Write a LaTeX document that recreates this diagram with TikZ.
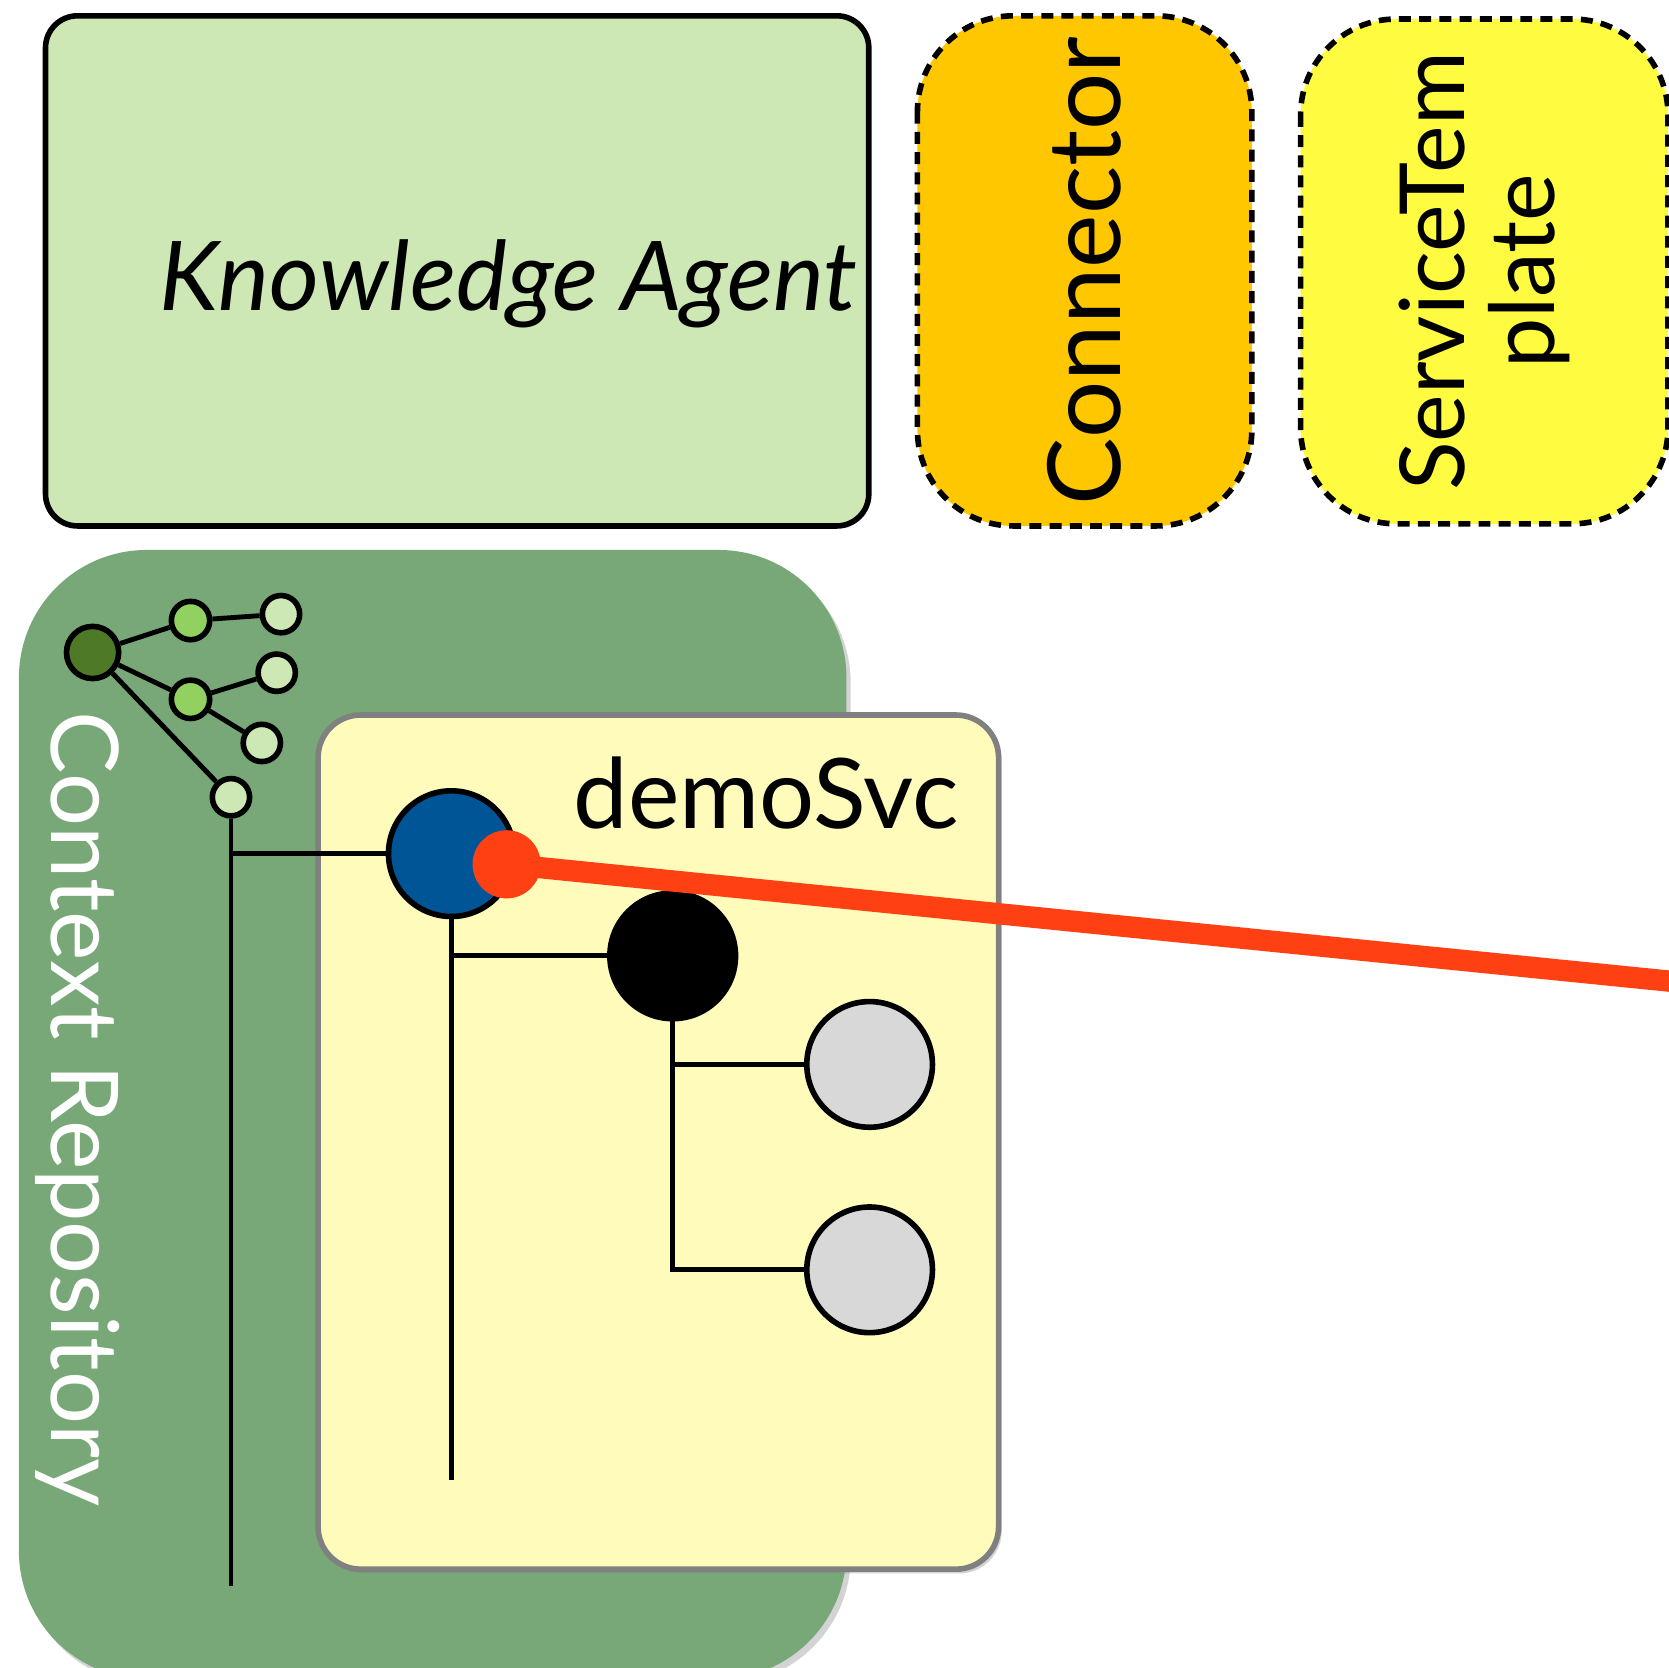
\documentclass[tikz,border=0pt]{standalone}
\usepackage{fontspec}
\setmainfont{Lato}
\usetikzlibrary{positioning,shadows}

\definecolor{agentgreen}{HTML}{CDE8B5}
\definecolor{connorange}{HTML}{FFC700}
\definecolor{tplyellow}{HTML}{FFFB40}
\definecolor{repogreen}{HTML}{78A878}
\definecolor{svcyellow}{HTML}{FEFBBB}
\definecolor{rootgreen}{HTML}{4E7A28}
\definecolor{midgreen}{HTML}{92D060}
\definecolor{svcblue}{HTML}{005596}
\definecolor{leafgray}{HTML}{D8D8D8}
\definecolor{linkred}{HTML}{FF4013}

\begin{document}
\begin{tikzpicture}[
        x=0.01cm, y=-0.01cm,
        dashbox/.style={draw, dashed, dash pattern=on 3.2pt off 2.2pt, line width=1.5pt, inner sep=0pt},
        treeline/.style={line width=1.3pt},
        treeroot/.style={circle, draw, line width=1.5pt, fill=rootgreen, minimum size=0.49cm, inner sep=0pt},
        treemid/.style={circle, draw, line width=1.5pt, fill=midgreen, minimum size=0.36cm, inner sep=0pt},
        treeleaf/.style={circle, draw, line width=1.5pt, fill=agentgreen, minimum size=0.35cm, inner sep=0pt},
        svcnode/.style={circle, draw, line width=1.5pt, minimum size=1.18cm, inner sep=0pt}
    ]
    \useasboundingbox (0,0) rectangle (1568,1567);
    \clip (0,0) rectangle (1568,1567);

    % Knowledge Agent
    \node[draw, line width=1.5pt, fill=agentgreen, rounded corners=0.3cm,
        minimum width=7.73cm, minimum height=4.79cm, inner sep=0pt] (agent) at (429.5,254.5) {};
    \node[font=\itshape\fontsize{25.7}{26}\selectfont, anchor=base] (agentlabel) at (478,292) {Knowledge Agent};

    % Connector and ServiceTemplate
    \node[dashbox, fill=connorange, rounded corners=0.9cm, rotate=90,
        minimum width=4.79cm, minimum height=3.14cm, font=\fontsize{27}{30}\selectfont] (connector) at (1019,254.5) {Connector};
    \node[dashbox, fill=tplyellow, rounded corners=0.9cm, rotate=90, align=center,
        minimum width=4.74cm, minimum height=3.45cm, font=\fontsize{24}{24}\selectfont] (template) at (1394.5,255) {ServiceTem\\plate};

    % Context Repository
    \node[fill=repogreen, rounded corners=1.2cm, minimum width=7.77cm, minimum height=10.6cm,
        inner sep=0pt, drop shadow={shadow xshift=0.4mm, shadow yshift=-0.5mm, opacity=0.35}] (repo) at (406.5,1047) {};
    \node[text=white, rotate=-90, anchor=base, font=\fontsize{25}{28}\selectfont] (repolabel) at (48,1042) {Context Repository};

    % demoSvc
    \node[draw=gray, line width=1.5pt, fill=svcyellow, rounded corners=0.4cm,
        minimum width=6.39cm, minimum height=8.02cm, inner sep=0pt,
        drop shadow={shadow xshift=0.3mm, shadow yshift=-0.4mm, opacity=0.35}] (svcbox) at (618.5,1073) {};
    \node[anchor=base, font=\fontsize{26}{28}\selectfont] (svclabel) at (720,778) {demoSvc};

    % repository tree
    \node[treeroot] (croot) at (87,613) {};
    \node[treemid] (cmida) at (179,583) {};
    \node[treemid] (cmidb) at (179,657) {};
    \node[treeleaf] (cleafa) at (264,577) {};
    \node[treeleaf] (cleafb) at (260,632) {};
    \node[treeleaf] (cleafc) at (246,698) {};
    \node[treeleaf] (cleafd) at (217,749) {};
    \foreach \a/\b in {croot/cmida,croot/cmidb,croot/cleafd,cmida/cleafa,cmidb/cleafb,cmidb/cleafc} {
            \draw[treeline] (\a) -- (\b);
        }
    \coordinate (trunkend) at (217,1490);
    \draw[treeline] (cleafd) -- (trunkend);

    % service nodes
    \node[svcnode, fill=svcblue] (demo) at (424,802) {};
    \node[svcnode, fill=black] (child) at (632,898) {};
    \node[svcnode, fill=leafgray] (leafa) at (817,1000) {};
    \node[svcnode, fill=leafgray] (leafb) at (817,1193) {};

    \draw[treeline] (cleafd |- demo.west) -- (demo.west);
    \coordinate (demoend) at (424,1390);
    \draw[treeline] (demo) -- (demoend);
    \draw[treeline] (demo |- child.west) -- (child.west);
    \draw[treeline] (child) -- (child |- leafb.west) -- (leafb.west);
    \draw[treeline] (child |- leafa.west) -- (leafa.west);

    % link
    \coordinate (linkend) at (1700,935);
    \node[circle, fill=linkred, minimum size=0.64cm, inner sep=0pt] (port) at (476,812) {};
    \draw[linkred, line width=5.7pt] (port.center) -- (linkend);

\end{tikzpicture}
\end{document}
